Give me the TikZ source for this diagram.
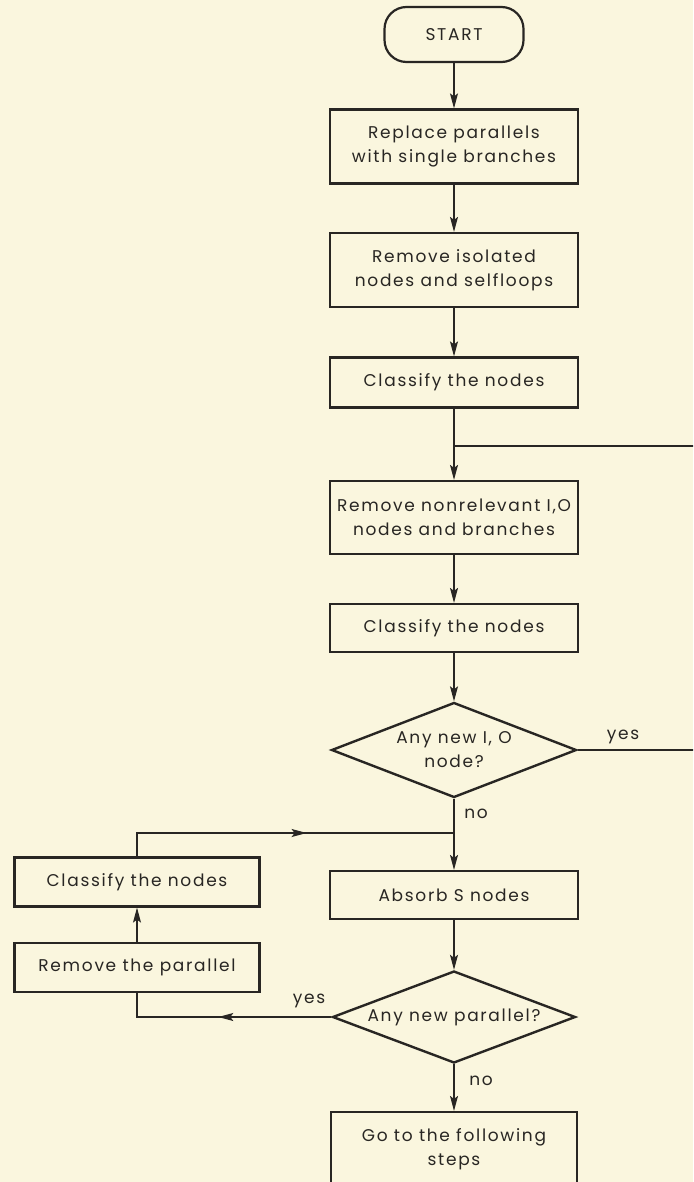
\documentclass[tikz,border=0pt]{standalone}
\usepackage{fontspec}
\setmainfont{Poppins}[LetterSpace=10]
\usetikzlibrary{arrows.meta,shapes.geometric,decorations.markings}
\definecolor{paper}{RGB}{250,246,222}
\definecolor{ink}{RGB}{40,38,35}
\tikzset{
  box/.style={draw=ink,line width=2.2pt,minimum width=248pt,inner sep=0pt,align=center,text=ink,font=\fontsize{17}{24}\selectfont},
  dia/.style={draw=ink,line width=2.4pt,diamond,minimum width=245pt,minimum height=95pt,inner sep=0pt},
  txt/.style={text=ink,align=center,font=\fontsize{17}{24}\selectfont,inner sep=0pt},
  conn/.style={draw=ink,line width=1.2pt},
  arr/.style={conn,-{Stealth[length=15pt,width=8pt,inset=3pt]}},
  midarrow/.style={postaction={decorate},decoration={markings,mark=at position #1 with {\arrow{Stealth[length=15pt,width=8pt,inset=3pt]}}}}
}
\begin{document}
\begin{tikzpicture}[x=1pt,y=-1pt]
\clip (0,0) rectangle (693,1182);
\fill[paper] (0,0) rectangle (693,1182);
% main column
\node[box,minimum width=139pt,minimum height=55pt,rounded corners=22pt] (start) at (454,34.5) {START};
\node[box,minimum height=74pt] (b1) at (454,146.5) {Replace parallels\\with single branches};
\node[box,minimum height=74pt] (b2) at (454,270) {Remove isolated\\nodes and selfloops};
\node[box,minimum height=50pt] (b3) at (454,382.5) {Classify the nodes};
\node[box,minimum height=73pt] (b4) at (454,517.5) {Remove nonrelevant I,O\\nodes and branches};
\node[box,minimum height=48pt] (b5) at (454,628) {Classify the nodes};
\node[dia] (d1) at (454,750) {};
\node[txt] (d1t) at (d1.center) {Any new I, O\\node?};
\node[box,minimum height=48pt] (b6) at (454,895) {Absorb S nodes};
\node[dia,minimum height=92pt,minimum width=243pt] (d2) at (454,1017) {};
\node[txt] (d2t) at (d2.center) {Any new parallel?};
\node[box,minimum height=74pt,minimum width=246pt] (b7) at (454,1149) {Go to the following\\steps};
% left column
\node[box,minimum height=49pt,minimum width=245pt] (lc) at (137,882) {Classify the nodes};
\node[box,minimum height=49pt,minimum width=245pt] (lr) at (137,967.5) {Remove the parallel};
% labels
\node[txt] (yes1) at (623,737) {yes};
\node[txt] (no1) at (476,814) {no};
\node[txt] (yes2) at (309,1001) {yes};
\node[txt] (no2) at (481,1081) {no};
% junctions
\coordinate (j1) at (454,446);
\coordinate (j2) at (454,833);
\coordinate (rr) at (705,0);
% connectors
\draw[arr] (start) -- (b1);
\draw[arr] (b1) -- (b2);
\draw[arr] (b2) -- (b3);
\draw[arr] (b3) -- (b4);
\draw[arr] (b4) -- (b5);
\draw[arr] (b5) -- (d1);
\draw[arr] (d1) -- (b6);
\draw[arr] (b6) -- (d2);
\draw[arr] (d2) -- (b7);
\draw[conn] (d1.east) -- (d1.east -| rr) |- (j1);
\draw[arr] (lr) -- (lc);
\draw[conn,midarrow=193pt] (lc.north) |- (j2);
\draw[conn,midarrow=113pt] (d2.west) -| (lr.south);
\end{tikzpicture}
\end{document}
